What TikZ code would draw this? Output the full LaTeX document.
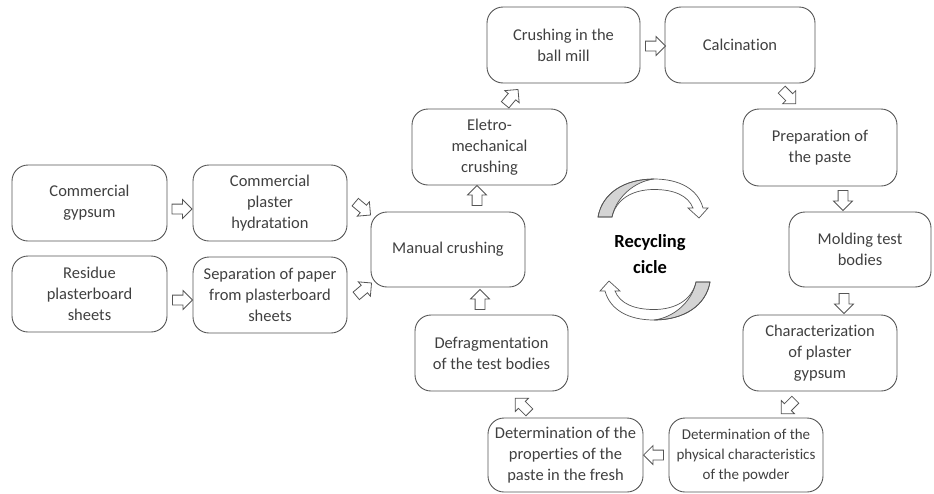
\documentclass[tikz,border=0pt]{standalone}
\usepackage{fontspec}
\setmainfont{Carlito}[Ligatures=NoCommon]
\usetikzlibrary{shapes.arrows}
\definecolor{linec}{HTML}{555555}
\definecolor{txtc}{HTML}{404040}
\definecolor{greyf}{HTML}{D4D4D4}
\begin{document}
\begin{tikzpicture}[x=1pt,y=1pt,
  box/.style={draw=linec, line width=0.9pt, rounded corners=16pt, align=center,
    text=txtc, font=\fontsize{16.5}{21}\selectfont, inner sep=2pt},
  barrow/.style={single arrow, draw=linec, fill=white, line width=0.8pt,
    minimum height=20pt, minimum width=18pt, single arrow head extend=4.5pt,
    single arrow head indent=0pt, inner sep=4.5pt},
  cyc/.style={draw=linec, line width=0.7pt}]
\useasboundingbox (0,0) rectangle (934,-493);

% boxes
\node[box, minimum width=155pt, minimum height=76pt] (gyp) at (89.5,-203) {Commercial\\gypsum};
\node[box, minimum width=154pt, minimum height=76pt] (plas) at (270,-203) {Commercial\\plaster\\hydratation};
\node[box, minimum width=155pt, minimum height=76pt] (res) at (89.5,-294) {Residue\\plasterboard\\sheets};
\node[box, minimum width=154pt, minimum height=76pt] (sep) at (270,-295) {Separation of paper\\from plasterboard\\sheets};
\node[box, minimum width=154pt, minimum height=75pt] (man) at (448,-249.5) {Manual crushing};
\node[box, minimum width=155pt, minimum height=76pt] (ele) at (489.5,-147) {Eletro-\\mechanical\\crushing};
\node[box, minimum width=153pt, minimum height=76pt] (ball) at (563.5,-45) {Crushing in the\\ball mill};
\node[box, minimum width=150pt, minimum height=76pt] (calc) at (740,-45) {Calcination};
\node[box, minimum width=154pt, minimum height=77pt] (prep) at (820,-147.5) {Preparation of\\the paste};
\node[box, minimum width=142pt, minimum height=75pt] (mold) at (860,-249.5) {Molding test\\bodies};
\node[box, minimum width=154pt, minimum height=76pt] (char) at (820,-353) {Characterization\\of plaster\\gypsum};
\node[box, minimum width=154pt, minimum height=74pt, font=\fontsize{15}{20}\selectfont] (phys) at (746,-455) {Determination of the\\physical characteristics\\of the powder};
\node[box, minimum width=155pt, minimum height=74pt] (paste) at (565.5,-455) {Determination of the\\properties of the\\paste in the fresh};
\node[box, minimum width=153pt, minimum height=76pt] (defr) at (491.5,-353) {Defragmentation\\of the test bodies};

% block arrows (connectors between the named boxes)
\node[barrow] (a1) at (179.5,-209) {};
\node[barrow] (a2) at (180,-300) {};
\node[barrow, rotate=-40] (a3) at (361,-207) {};
\node[barrow, rotate=40] (a4) at (362,-291) {};
\node[barrow, rotate=90] (a5) at (480,-302) {};
\node[barrow, rotate=90] (a6) at (477,-198) {};
\node[barrow, rotate=50] (a7) at (510,-99) {};
\node[barrow] (a8) at (653,-46) {};
\node[barrow, rotate=-45] (a9) at (787,-95) {};
\node[barrow, rotate=-90] (a10) at (843,-198) {};
\node[barrow, rotate=-90] (a11) at (844,-301) {};
\node[barrow, rotate=-135] (a12) at (790,-405) {};
\node[barrow, rotate=180] (a13) at (656,-455) {};
\node[barrow, rotate=135] (a14) at (524,-407) {};

% recycling circle
\foreach \r in {0,180}{
\begin{scope}[shift={(654,-249.5)}, rotate=\r]
  \path[fill=white] (-56,32.5) .. controls (-52,56) and (-30,70.5) .. (0,70.5)
     .. controls (26,70.5) and (44,60) .. (49,41.5) -- (54,41.5) -- (45,31.5) -- (34,41.5) -- (39,41.5)
     .. controls (34,54) and (20,60) .. (0,60) .. controls (-22,60) and (-38,50) .. (-42,32.5) -- cycle;
  \path[cyc, fill=greyf] (-56,32.5) .. controls (-52,56) and (-30,70.5) .. (0,70.5)
     .. controls (-20,68) and (-38,52) .. (-42,32.5) -- cycle;
  \path[cyc] (-56,32.5) .. controls (-52,56) and (-30,70.5) .. (0,70.5)
     .. controls (26,70.5) and (44,60) .. (49,41.5) -- (54,41.5) -- (45,31.5) -- (34,41.5) -- (39,41.5)
     .. controls (34,54) and (20,60) .. (0,60) .. controls (-22,60) and (-38,50) .. (-42,32.5) -- cycle;
\end{scope}}
\node[font=\bfseries\fontsize{18.5}{26}\selectfont, align=center, text=black] (rc) at (650,-254) {Recycling\\cicle};
\end{tikzpicture}
\end{document}
